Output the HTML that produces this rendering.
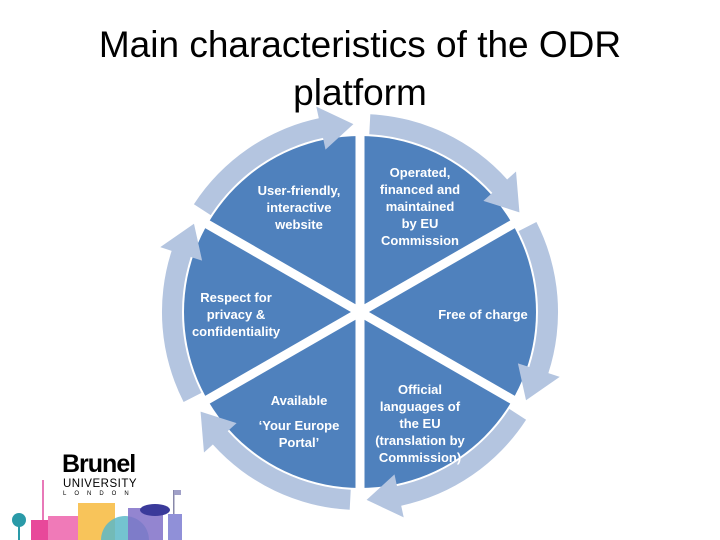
<!DOCTYPE html>
<html><head><style>
body{margin:0;width:720px;height:540px;background:#fff;overflow:hidden;position:relative;font-family:"Liberation Sans",sans-serif}
.t{position:absolute;left:0;width:720px;text-align:center;font-size:37px;color:#000}
.l{position:absolute;color:#fff;font-weight:bold;font-size:13px;line-height:17px;text-align:center;white-space:nowrap;transform:translateX(-50%)}
</style></head><body>
<div class="t" style="top:24px">Main characteristics of the ODR</div>
<div class="t" style="top:72px">platform</div>
<svg width="720" height="540" style="position:absolute;left:0;top:0">
<g transform="translate(360,312)">
<circle r="176" fill="#4f81bd"/>
<g stroke="#fff" stroke-width="9">
<line x1="0" y1="-180" x2="0" y2="180"/>
<line x1="-160" y1="-92" x2="160" y2="92"/>
<line x1="-160" y1="92" x2="160" y2="-92"/>
</g>
<g fill="#b4c5e0">
<path id="a" d="M -149.3 -96.9 A 178 178 0 0 1 -37.0 -174.1 L -34.5 -162.4 L -6.6 -187.9 L -43.7 -205.4 L -41.2 -193.7 A 198 198 0 0 0 -166.1 -107.8 Z"/>
<use href="#a" transform="rotate(60)"/>
<use href="#a" transform="rotate(120)"/>
<use href="#a" transform="rotate(180)"/>
<use href="#a" transform="rotate(240)"/>
<use href="#a" transform="rotate(300)"/>
</g>
</g>
<rect x="42" y="480" width="2" height="60" fill="#e879b8"/>
<circle cx="19" cy="520" r="7" fill="#2a9aa8"/><rect x="18" y="520" width="2" height="20" fill="#2a9aa8"/>
<rect x="31" y="520" width="30" height="20" fill="#e8489a"/>
<rect x="48" y="516" width="30" height="24" fill="#f07ab8"/>
<rect x="78" y="503" width="37" height="37" fill="#f8c45a"/>
<circle cx="125" cy="540" r="24" fill="#5cb8c8" opacity=".85"/>
<rect x="128" y="508" width="35" height="32" fill="#8070c8" opacity=".85"/>
<ellipse cx="155" cy="510" rx="15" ry="6" fill="#3a3a9a"/>
<rect x="168" y="514" width="14" height="26" fill="#9090d8"/>
<rect x="173" y="490" width="1.5" height="24" fill="#8888aa"/>
<rect x="174" y="490" width="7" height="5" fill="#a0a0c8"/>
</svg>
<div style="position:absolute;left:62px;top:450px;font-size:25px;font-weight:bold;letter-spacing:-1px">Brunel</div>
<div style="position:absolute;left:63px;top:478px;font-size:11.5px;letter-spacing:0.5px">UNIVERSITY</div>
<div style="position:absolute;left:63px;top:491px;font-size:6px;letter-spacing:8px">LONDON</div>
<div class="l" style="left:299px;top:182px">User-friendly,<br>interactive<br>website</div>
<div class="l" style="left:420px;top:164px">Operated,<br>financed and<br>maintained<br>by EU<br>Commission</div>
<div class="l" style="left:236px;top:289px">Respect for<br>privacy &amp;<br>confidentiality</div>
<div class="l" style="left:483px;top:306px">Free of charge</div>
<div class="l" style="left:299px;top:392px">Available</div>
<div class="l" style="left:299px;top:417px">‘Your Europe<br>Portal’</div>
<div class="l" style="left:420px;top:381px">Official<br>languages of<br>the EU<br>(translation by<br>Commission)</div>
</body></html>
